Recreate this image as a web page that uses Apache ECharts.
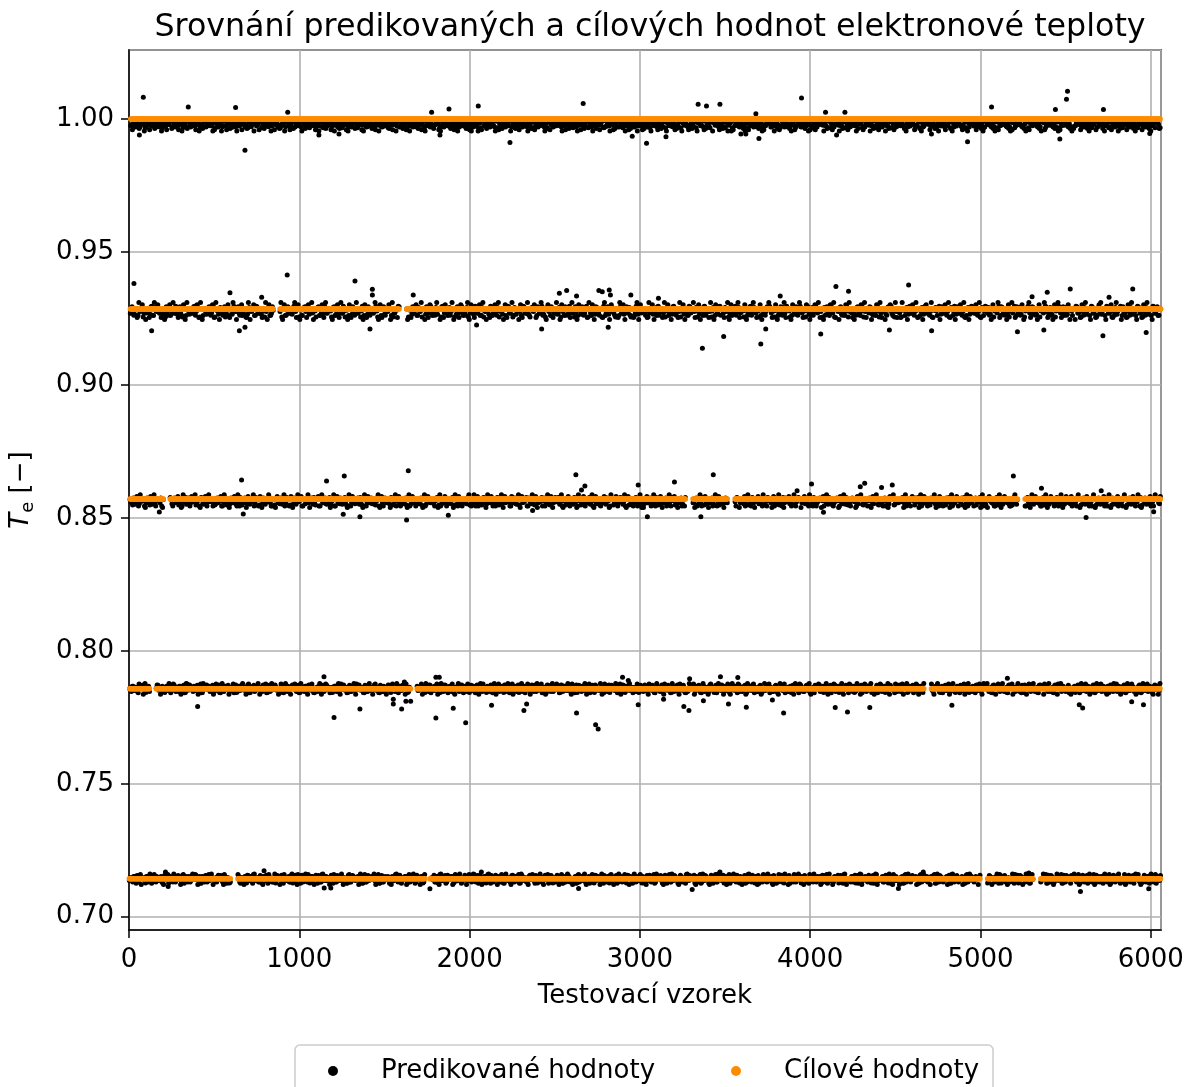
<!DOCTYPE html>
<html>
<head>
<meta charset="utf-8">
<script src="https://cdn.jsdelivr.net/npm/echarts@6/dist/echarts.min.js"></script>
<style>
    html, body { margin: 0; padding: 0; background: #fff; }
    #chart { width: 1191px; height: 1087px; }
</style>
</head>
<body>
<div id="chart"></div>
<script>
// cílové hodnoty tříd (oranžové)
var targets = [0.7143, 0.7857, 0.8571, 0.9286, 1.0];

// odchylky predikcí od cíle, jedna číslice = jeden vzorek
var devCodesE = [
    '46372581647392857463158274936518273649581726358491',
    '63854172639584726138572946371582463975182647395816',
    '28593647182539476182537491628357461928374659182736',
    '57214693825716349285173649258371946285713469258147',
    '39462815739264815372946183752946318572649318527463',
    '81527394615283749162538471926358417296354817293645',
    '75148362957418263947518362947581362947518263974851',
    '32695847162395847126358947162358497126385947163285',
    '94751863294175836291547386291574836291457386921574',
    '16283947561283947516829374651829374651283974651829',
    '58371649285731649258371694285371649528371694528376',
    '27946158372946185372946158379246158372964158372946274'
].join('');
var devCodesD = [
    '53746285194736528417365924835716294853671429586371',
    '64829375146283759418267359148627395841672935186472',
    '95371846253917485264739158426379158462739518462735',
    '18465392748163952874613958247613958427361594827365',
    '47281936574829163758492617385942761835947261853947',
    '62837495162847359162738459126384759261837495263847',
    '38517462953817462935817462395817642935187462958174',
    '71946285371946825371496825374196825374196285374916',
    '26584739162584739165284739612584793162584739165284',
    '84179365248173965284179362548179365248179635284719',
    '59362817459362871459326817459362871549362817945362',
    '13758294637158294637512849637158294673158294637518519'
].join('');
var devCodesC = [
    '64738295617483926571849362758419637285946173829564',
    '37582946175839264718359462817359426185739462817395',
    '82649173568294736159284736519284673519284763591827',
    '46173958264719385264719385642719358246719385264793',
    '59284637195826473918562847391856274938165274938165',
    '73916482537196482573918642583719648257391864257391',
    '15847392658147392685147329685417392685147392865174',
    '98362715483962715843962751843962175843926715843962',
    '42571869354257186935427518693452718693542751869354',
    '67193428576193842576913842576193482576193842756193',
    '31856274913856247931856274193856247913852647913856',
    '85429167384529167348529176384529167384592167348529648'
].join('');
var devCodesB = [
    '47362958416273958426173859462738195647382916547382',
    '95163748269517384629158374625918374652918374659281',
    '36728491567382946517382945618273946518273649518273',
    '58194627385916274835961728453961728453916728453918',
    '72648395162748395618274936518274936582749361857249',
    '41857362947185736294817536294718536294817536249185',
    '63295814736295841763295814376925814736295184736259',
    '18473926581473962581437962581473926518473962587143',
    '85926137485926173485962137485926713485926137845926',
    '29651748392651784392656174839265174839261574839265',
    '74318569274318596274381569274318569724318596274381',
    '56174283956174238956174823956174283965174283956174736'
].join('');
var devCodesA = [
    '52749368147259368417526938472615938457261938475612',
    '84615927384615927438561972843659172843561972834659',
    '17384659271846359271843659218473659218476352918476',
    '63927184536291847536291874536921847563928147563921',
    '48517296384751926384751963827459163827459613827495',
    '95162837495162738495163728495617238496517238491652',
    '36481759263481759623481795263481759236481975263481',
    '71259846317259486371259846173259486317259846371259',
    '24876153982476153892476513982476153982746153892476',
    '59314678259314687259341678259314678529314687259314',
    '87643192578643129578643192758643192578643912578643',
    '13598264731598246731598264713598264731589264731598738'
].join('');
var devCodes = [devCodesE, devCodesD, devCodesC, devCodesB, devCodesA];
// převod číslice -> odchylka: široký rozptyl a hustší jádro u čáry
var devBase = [-0.0027, -0.0025, -0.0038, -0.0048, -0.0050];
var devStep = [0.0005, 0.0005, 0.0006, 0.0008, 0.0005];
var coreBase = [-0.0020, -0.0018, -0.0030, -0.0035, -0.0035];
var coreStep = [0.0004, 0.0004, 0.0004, 0.0005, 0.0003];

// místa, kde daná třída nemá vzorky (mezery v oranžové čáře)
var gaps = [
    [618, 1756, 5020, 5331],
    [140, 1668, 4690],
    [222, 3290, 3537, 5240],
    [867, 1610],
    []
];

// odlehlé predikce [vzorek, Te]
var outliers = [
    [[5587, 0.7095], [1767, 0.7105], [3307, 0.7102], [4518, 0.7106], [2640, 0.7106], [793, 0.7173],
     [2069, 0.7168], [214, 0.7168], [3470, 0.7168], [5284, 0.7164], [4664, 0.7168], [5988, 0.7105],
     [230, 0.7114], [1146, 0.7108], [1185, 0.7108]],
    [[403, 0.7791], [1145, 0.7903], [1204, 0.7749], [1356, 0.7781], [1552, 0.78], [1552, 0.7818],
     [1601, 0.7781], [1626, 0.781], [1654, 0.781], [1617, 0.7883], [1802, 0.7747], [1904, 0.7784],
     [1977, 0.773], [1802, 0.7901], [1822, 0.7901], [2129, 0.7795], [2319, 0.7776], [2335, 0.78],
     [2628, 0.7766], [2740, 0.7722], [2755, 0.7706], [2898, 0.7901], [2932, 0.7888], [2990, 0.7797],
     [3288, 0.7776], [3258, 0.7791], [3844, 0.7766], [4147, 0.7787], [4219, 0.777], [4350, 0.7787],
     [4832, 0.7795], [5580, 0.7797], [5600, 0.7785], [5957, 0.7797], [5888, 0.7809], [3473, 0.7903],
     [3575, 0.79], [5158, 0.7897], [3292, 0.7895], [3625, 0.7788], [3520, 0.78], [3139, 0.7818],
     [3373, 0.7812], [3778, 0.7815]],
    [[661, 0.8643], [1160, 0.8639], [1264, 0.8658], [1640, 0.8677], [1630, 0.8492], [1875, 0.851],
     [1356, 0.8504], [2624, 0.8662], [2657, 0.8605], [2677, 0.862], [671, 0.8515], [178, 0.8522],
     [2990, 0.8624], [1258, 0.8514], [2370, 0.8528], [3431, 0.8662], [3203, 0.8635], [5193, 0.8658],
     [4320, 0.863], [4294, 0.8617], [4419, 0.8614], [4482, 0.8624], [4008, 0.8628], [3923, 0.8602],
     [3044, 0.8504], [3358, 0.8504], [5620, 0.8502], [6017, 0.8523], [4078, 0.8521], [5358, 0.8612],
     [5709, 0.8602]],
    [[29, 0.9382], [929, 0.9414], [1327, 0.9391], [1429, 0.936], [1429, 0.9338], [593, 0.9347],
     [1669, 0.9338], [133, 0.9204], [1415, 0.9211], [648, 0.9204], [681, 0.9217], [2759, 0.9355],
     [2779, 0.9351], [2820, 0.9357], [2827, 0.9338], [2570, 0.9355], [2527, 0.9345], [2628, 0.9335],
     [2947, 0.9338], [2423, 0.9211], [2814, 0.9217], [2041, 0.9226], [779, 0.933], [4151, 0.937],
     [4225, 0.9353], [4578, 0.9376], [3367, 0.9138], [3492, 0.9182], [3710, 0.9154], [3739, 0.9211],
     [4062, 0.9192], [4465, 0.9207], [4713, 0.9204], [5392, 0.9349], [5527, 0.9361], [5894, 0.9361],
     [5755, 0.933], [5719, 0.9185], [5973, 0.9197], [5217, 0.92], [5372, 0.9207], [3109, 0.9326],
     [3824, 0.9335], [5303, 0.9332]],
    [[84, 1.0082], [681, 0.9883], [348, 1.0046], [626, 1.0044], [932, 1.0026], [2051, 1.0049],
     [2237, 0.9912], [1777, 1.0026], [1879, 1.0038], [61, 0.994], [1115, 0.994], [1233, 0.9944],
     [1826, 0.994], [2667, 1.0059], [3949, 1.0079], [3342, 1.0056], [3391, 1.0049], [3470, 1.0056],
     [3039, 0.9909], [3153, 0.9934], [2955, 0.9936], [3699, 0.9927], [3593, 0.9944], [3622, 0.9944],
     [4155, 0.994], [4090, 1.0026], [4204, 1.0026], [3681, 1.002], [4712, 0.9944], [5511, 1.0105],
     [5505, 1.0075], [5440, 1.0036], [5065, 1.0046], [4924, 0.9915], [5466, 0.9925], [5722, 1.0036],
     [5994, 0.9946]]
];

var nSamples = 6050;

// sestavení bodů
var predicted = [];
var target = [];
function addPass(k, codes, base, step, shift) {
    var n = codes.length;
    for (var i = 0; i < n; i++) {
        var x = Math.round(2 + 2 * k + shift + i * nSamples / (n - 1));
        if (x > nSamples + 8) continue;
        var inGap = gaps[k].some(function (g) { return Math.abs(x - g) < 20; });
        if (inGap) continue;
        predicted.push([x, targets[k] + base + (+codes[i]) * step]);
        target.push([x, targets[k]]);
    }
}
for (var k = 0; k < targets.length; k++) {
    addPass(k, devCodes[k], devBase[k], devStep[k], 0);
    addPass(k, devCodes[(k + 2) % 5], coreBase[k], coreStep[k], 5);
    outliers[k].forEach(function (p) {
        predicted.push(p);
        target.push([p[0], targets[k]]);
    });
}

var chart = echarts.init(document.getElementById('chart'));
var font = 'DejaVu Sans';
var option = {
    animation: false,
    backgroundColor: '#fff',
    textStyle: { fontFamily: font },
    title: {
        text: 'Srovnání predikovaných a cílových hodnot elektronové teploty',
        left: 645,
        top: 7,
        textAlign: 'center',
        textStyle: { fontSize: 31.7, fontWeight: 'normal', color: '#000', fontFamily: font }
    },
    grid: {
        left: 129, right: 30, top: 50, bottom: 157,
        show: true, borderColor: '#000', borderWidth: 1.5
    },
    legend: {
        left: 295,
        top: 1045,
        padding: [13, 14, 16, 33],
        borderColor: '#cccccc',
        borderWidth: 1.5,
        borderRadius: 5,
        itemWidth: 10,
        itemHeight: 10,
        itemGap: 76,
        textStyle: { fontSize: 26, color: '#000', fontFamily: font, padding: [0, 0, 0, 38] },
        data: [
            { name: 'Predikované hodnoty', icon: 'circle' },
            { name: 'Cílové hodnoty', icon: 'circle' }
        ]
    },
    xAxis: {
        type: 'value',
        min: 0,
        max: 6060,
        interval: 1000,
        name: 'Testovací vzorek',
        nameLocation: 'middle',
        nameGap: 53,
        nameTextStyle: { fontSize: 26, color: '#000', fontFamily: font },
        axisLine: { show: true, onZero: false, lineStyle: { color: '#000', width: 1.5 } },
        axisTick: { show: true, length: 8, lineStyle: { color: '#000', width: 1.5 } },
        axisLabel: {
            fontSize: 26, color: '#000', margin: 17, showMaxLabel: false,
            formatter: function (v) { return String(v); }
        },
        splitLine: { show: true, lineStyle: { color: '#b0b0b0', width: 1.6 } }
    },
    yAxis: {
        type: 'value',
        min: 0.695,
        max: 1.026,
        splitNumber: 6,
        name: '{t|T}{s|e} [−]',
        nameLocation: 'middle',
        nameRotate: 90,
        nameGap: 92,
        nameTextStyle: {
            fontSize: 26, color: '#000', fontFamily: font,
            rich: {
                t: { fontSize: 26, fontStyle: 'italic', fontFamily: font },
                s: { fontSize: 18, fontFamily: font, padding: [13, 0, 0, 0] }
            }
        },
        axisLine: { show: true, lineStyle: { color: '#000', width: 1.5 } },
        axisTick: { show: true, length: 8, lineStyle: { color: '#000', width: 1.5 } },
        axisLabel: {
            fontSize: 26, color: '#000', margin: 15, showMinLabel: false, showMaxLabel: false,
            formatter: function (v) { return v.toFixed(2); }
        },
        splitLine: { show: true, lineStyle: { color: '#b0b0b0', width: 1.6 } }
    },
    series: [
        {
            name: 'Predikované hodnoty',
            type: 'scatter',
            symbolSize: 5,
            progressive: 0,
            large: false,
            silent: true,
            itemStyle: { color: '#000', opacity: 1 },
            data: predicted
        },
        {
            name: 'Cílové hodnoty',
            type: 'scatter',
            symbolSize: 5.5,
            progressive: 0,
            large: false,
            silent: true,
            itemStyle: { color: '#ff8c00', opacity: 1 },
            data: target
        }
    ]
};
option && chart.setOption(option);
</script>
</body>
</html>
